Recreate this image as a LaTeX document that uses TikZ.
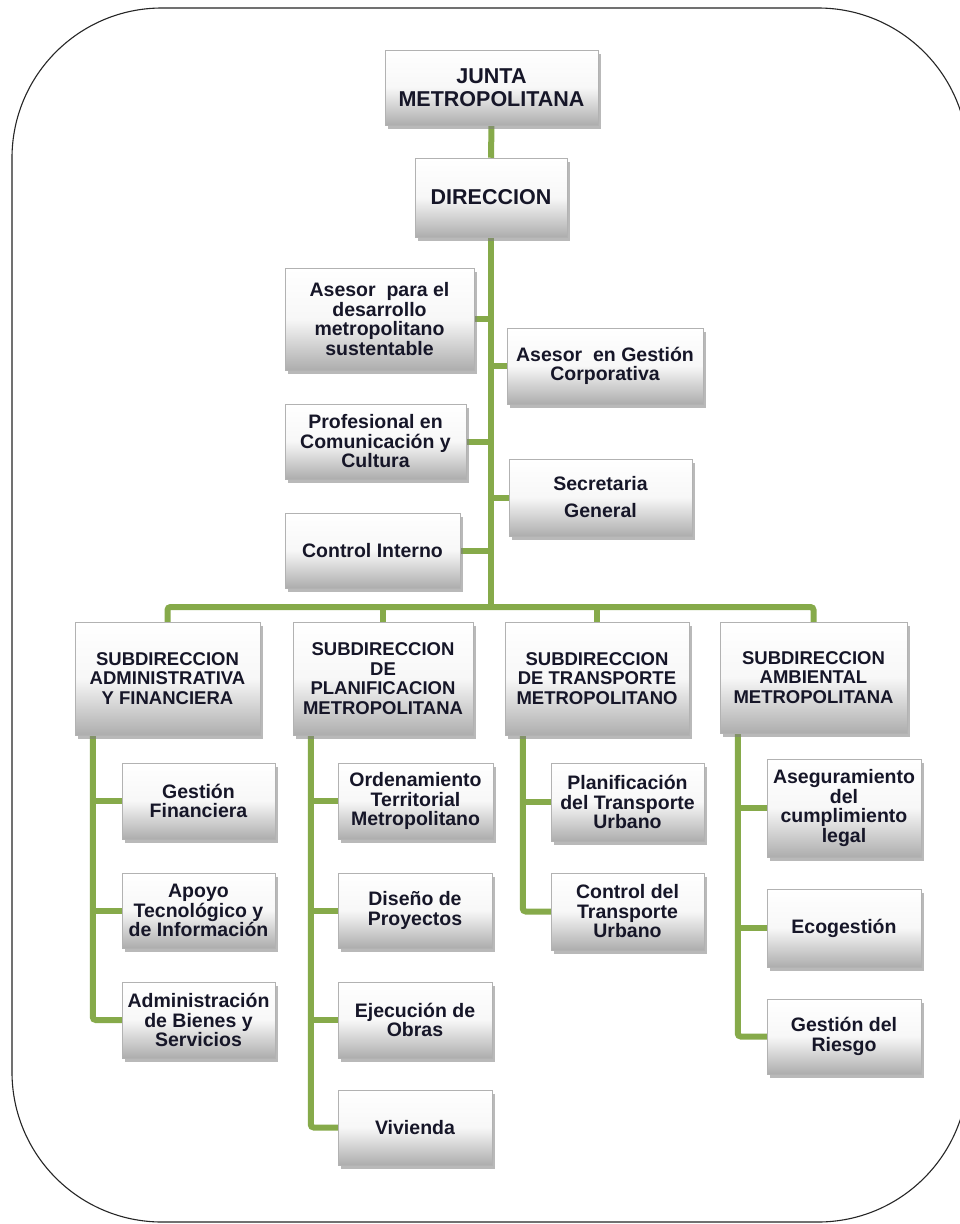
\documentclass[tikz,border=0pt]{standalone}
\usepackage{fontspec}
\setmainfont{Liberation Sans}
\usetikzlibrary{shadows}
\pgfdeclarelayer{bg}
\pgfsetlayers{bg,main}
\definecolor{conngreen}{RGB}{134,170,74}
\definecolor{txtcol}{RGB}{22,22,40}
\tikzset{
  box/.style={rectangle, draw=black!30, line width=0.5pt,
    top color=white, bottom color=black!32, middle color=black!3,
    drop shadow={shadow xshift=2.5pt, shadow yshift=-3.5pt, fill=black!50, opacity=0.55},
    inner sep=0pt, align=center, text=txtcol},
  bx/.style 2 args={box, minimum width=#1pt, minimum height=#2pt},
  bigtxt/.style={font=\bfseries\fontsize{21.5}{23}\selectfont},
  subtxt/.style={font=\bfseries\fontsize{18.5}{19.5}\selectfont},
  chtxt/.style={font=\bfseries\fontsize{19.5}{19.5}\selectfont},
  conn/.style={draw=conngreen, line width=6pt, rounded corners=3pt},
  frame/.style={draw=black!85, line width=1.1pt, rounded corners=150pt}
}
\begin{document}
\begin{tikzpicture}[x=1pt,y=-1pt]
\useasboundingbox (0,0) rectangle (959,1224);

% top
\node[bx={213}{75}, bigtxt] (junta) at (491.5,87.5) {JUNTA\\METROPOLITANA};
\node[bx={152}{79}, bigtxt] (dir) at (491,197.5) {DIRECCION};

% staff
\node[bx={189}{102}, chtxt] (a1) at (379.5,319) {Asesor\ \ para el\\desarrollo\\metropolitano\\sustentable};
\node[bx={196}{76}, chtxt] (a2) at (605,366) {Asesor\ \ en Gestión\\Corporativa};
\node[bx={181}{75}, chtxt] (a3) at (375.5,441.5) {Profesional en\\Comunicación y\\Cultura};
\node[bx={183}{77}, font=\bfseries\fontsize{19.5}{27}\selectfont] (a4) at (600.5,497.5) {Secretaria\\General};
\node[bx={175}{75}, chtxt] (a5) at (372.5,550.5) {Control Interno};

\coordinate (hub) at (491,607);

% subdirecciones
\node[bx={185}{113}, subtxt] (s1) at (167.5,678.5) {SUBDIRECCION\\ADMINISTRATIVA\\Y FINANCIERA};
\node[bx={180}{113}, subtxt] (s2) at (383,678.5) {SUBDIRECCION\\DE\\PLANIFICACION\\METROPOLITANA};
\node[bx={184}{113}, subtxt] (s3) at (597,678.5) {SUBDIRECCION\\DE TRANSPORTE\\METROPOLITANO};
\node[bx={187}{111}, subtxt] (s4) at (813.5,677.5) {SUBDIRECCION\\AMBIENTAL\\METROPOLITANA};

% children
\node[bx={153}{76}, chtxt] (c11) at (198.5,801) {Gestión\\Financiera};
\node[bx={153}{75}, chtxt] (c12) at (198.5,910.5) {Apoyo\\Tecnológico y\\de Información};
\node[bx={153}{76}, chtxt] (c13) at (198.5,1020) {Administración\\de Bienes y\\Servicios};

\node[bx={155}{76}, chtxt] (c21) at (415.5,801) {Ordenamiento\\Territorial\\Metropolitano};
\node[bx={154}{75}, chtxt] (c22) at (415,910.5) {Diseño de\\Proyectos};
\node[bx={154}{76}, chtxt] (c23) at (415,1020) {Ejecución de\\Obras};
\node[bx={154}{75}, chtxt] (c24) at (415,1127.5) {Vivienda};

\node[bx={153}{78}, chtxt] (c31) at (627.5,802) {Planificación\\del Transporte\\Urbano};
\node[bx={153}{77}, chtxt] (c32) at (627.5,911.5) {Control del\\Transporte\\Urbano};

\node[bx={154}{98}, chtxt] (c41) at (844,808) {Aseguramiento\\del\\cumplimiento\\legal};
\node[bx={154}{78}, chtxt] (c42) at (844,928) {Ecogestión};
\node[bx={154}{75}, chtxt] (c43) at (844,1036.5) {Gestión del\\Riesgo};

\coordinate (v1) at ([xshift=18pt]s1.south west);
\coordinate (v2) at ([xshift=18pt]s2.south west);
\coordinate (v3) at ([xshift=18pt]s3.south west);
\coordinate (v4) at ([xshift=18pt]s4.south west);

\begin{pgfonlayer}{bg}
\fill[white] (0,0) rectangle (959,1224);
\draw[frame] (12,8) rectangle (968,1222);
\draw[conn] (junta.south) -- (dir.north);
\draw[conn] (dir.south) -- (hub);
\draw[conn] (a1.east) -- (a1.east -| dir.south);
\draw[conn] (a2.west) -- (a2.west -| dir.south);
\draw[conn] (a3.east) -- (a3.east -| dir.south);
\draw[conn] (a4.west) -- (a4.west -| dir.south);
\draw[conn] (a5.east) -- (a5.east -| dir.south);
\draw[conn] (s1.north) |- (hub) -| (s4.north);
\draw[conn] (s2.north) -- (s2.north |- hub);
\draw[conn] (s3.north) -- (s3.north |- hub);
% branch 1
\draw[conn] (v1) |- (c13.west);
\draw[conn] (c11.west) -- (c11.west -| v1);
\draw[conn] (c12.west) -- (c12.west -| v1);
% branch 2
\draw[conn] (v2) |- (c24.west);
\draw[conn] (c21.west) -- (c21.west -| v2);
\draw[conn] (c22.west) -- (c22.west -| v2);
\draw[conn] (c23.west) -- (c23.west -| v2);
% branch 3
\draw[conn] (v3) |- (c32.west);
\draw[conn] (c31.west) -- (c31.west -| v3);
% branch 4
\draw[conn] (v4) |- (c43.west);
\draw[conn] (c41.west) -- (c41.west -| v4);
\draw[conn] (c42.west) -- (c42.west -| v4);
\end{pgfonlayer}
\end{tikzpicture}
\end{document}
